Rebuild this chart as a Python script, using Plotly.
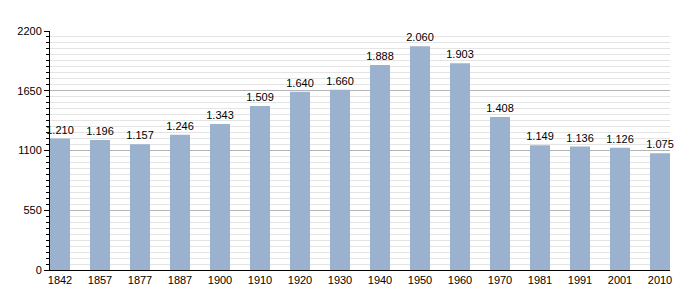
import plotly.graph_objects as go

years = ["1842", "1857", "1877", "1887", "1900", "1910", "1920", "1930",
         "1940", "1950", "1960", "1970", "1981", "1991", "2001", "2010"]
population = [1210, 1196, 1157, 1246, 1343, 1509, 1640, 1660,
              1888, 2060, 1903, 1408, 1149, 1136, 1126, 1075]
y_ticks = [0, 550, 1100, 1650, 2200]

labels = [f"{v:,}".replace(",", ".") for v in population]

fig = go.Figure()
fig.add_trace(go.Bar(
    x=list(range(len(years))),
    y=population,
    text=labels,
    textposition="outside",
    constraintext="none",
    textfont=dict(size=11, color="#000000", family="Liberation Sans, Arial, sans-serif"),
    marker=dict(color="#9bb2cf", line=dict(width=0)),
    width=0.5,
    cliponaxis=False,
))

fig.update_layout(
    width=700, height=300,
    margin=dict(l=50, r=30, t=31, b=30),
    paper_bgcolor="white", plot_bgcolor="white",
    showlegend=False,
    font=dict(family="Liberation Sans, Arial, sans-serif", size=11, color="#000000"),
    xaxis=dict(
        range=[-0.25, 15.25],
        tickmode="array",
        tickvals=list(range(len(years))),
        ticktext=years,
        showgrid=False,
        showline=True, linecolor="#000000", linewidth=1,
        ticks="", ticklen=0,
        tickfont=dict(size=11),
        zeroline=False,
    ),
    yaxis=dict(
        range=[0, 2200],
        tickmode="array",
        tickvals=y_ticks,
        ticktext=[str(t) for t in y_ticks],
        showgrid=True, gridcolor="#b4b4b4", gridwidth=1,
        showline=True, linecolor="#000000", linewidth=1,
        ticks="outside", ticklen=5, tickcolor="#000000", tickwidth=1,
        tickfont=dict(size=11),
        zeroline=False,
        minor=dict(
            dtick=55, tick0=0,
            ticks="outside", ticklen=3, tickcolor="#000000", tickwidth=1,
            showgrid=True, gridcolor="#e4e4e4", gridwidth=1,
        ),
    ),
)

fig.write_html("out.html")
